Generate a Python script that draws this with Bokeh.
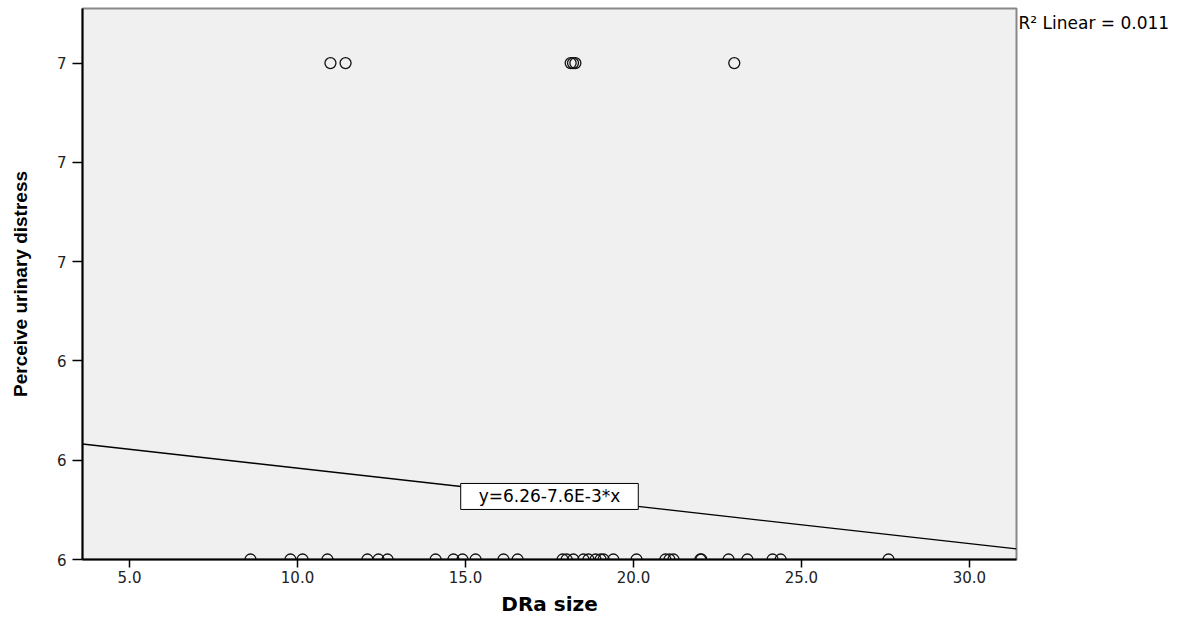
from bokeh.plotting import figure
from bokeh.models import Range1d, FixedTicker, Label, LinearAxis
from bokeh.embed import file_html
from bokeh.resources import INLINE

# ---- data ----
dra_low = [8.60, 9.79, 10.15, 10.89, 12.08, 12.41, 12.68, 14.11, 14.64, 14.91, 15.30,
           16.13, 16.55, 17.89, 18.01, 18.21, 18.51, 18.66, 18.87, 19.02, 19.11, 19.40,
           20.09, 20.95, 21.07, 21.19, 21.99, 22.02, 22.83, 23.39, 24.14, 24.38, 27.59]
distress_low = [6.0] * len(dra_low)
dra_high = [10.98, 11.43, 18.13, 18.20, 18.27, 23.00]
distress_high = [7.0] * len(dra_high)

intercept = 6.26
slope = -0.0076
r2_text = "R² Linear = 0.011"
eq_text = "y=6.26-7.6E-3*x"

x_ticks = [5, 10, 15, 20, 25, 30]
x_tick_labels = ["5.0", "10.0", "15.0", "20.0", "25.0", "30.0"]
y_ticks = [6.0, 6.2, 6.4, 6.6, 6.8, 7.0]
y_tick_labels = ["6", "6", "6", "7", "7", "7"]

x_lo, x_hi = 3.6, 31.4
y_lo, y_hi = 6.0, 7.11

FONT = "DejaVu Sans"

p = figure(frame_width=934, frame_height=551, output_backend="svg", toolbar_location=None,
           x_range=Range1d(x_lo, x_hi), y_range=Range1d(y_lo, y_hi),
           min_border_left=82, min_border_top=8, min_border_right=165, min_border_bottom=53,
           background_fill_color="#f0f0f0", border_fill_color="white")

p.grid.visible = False
p.outline_line_color = "#888888"
p.outline_line_width = 2

p.xaxis.ticker = FixedTicker(ticks=x_ticks)
p.xaxis.major_label_overrides = dict(zip(x_ticks, x_tick_labels))
p.yaxis.ticker = FixedTicker(ticks=y_ticks)
p.yaxis.major_label_overrides = dict(zip(y_ticks, y_tick_labels))

for ax in (p.xaxis[0], p.yaxis[0]):
    ax.axis_line_color = "black"
    ax.axis_line_width = 2
    ax.major_tick_line_color = "black"
    ax.major_tick_line_width = 1.5
    ax.major_tick_in = 0
    ax.minor_tick_line_color = None
    ax.major_label_text_font = FONT
    ax.major_label_text_font_size = "15px"
    ax.major_label_text_color = "#222222"
    ax.axis_label_text_font = FONT
    ax.axis_label_text_font_style = "bold"
    ax.axis_label_text_color = "black"

p.xaxis.major_tick_out = 8
p.xaxis.major_label_standoff = 3
p.xaxis.axis_label = "DRa size"
p.xaxis.axis_label_text_font_size = "20px"
p.xaxis.axis_label_standoff = 6

p.yaxis.major_tick_out = 10
p.yaxis.major_label_standoff = 6
p.yaxis.axis_label = "Perceive urinary distress"
p.yaxis.axis_label_text_font = "Liberation Sans"
p.yaxis.axis_label_text_font_size = "19px"
p.yaxis.axis_label_standoff = 23

# R² note in the right margin, carried by a bare right-hand axis (not clipped)
r2_pos = y_hi - 0.03
r2_axis = LinearAxis(ticker=FixedTicker(ticks=[r2_pos]),
                     major_label_overrides={r2_pos: r2_text},
                     axis_line_color=None, major_tick_line_color=None,
                     minor_tick_line_color=None, major_tick_out=0, major_tick_in=0,
                     major_label_standoff=2, major_label_text_font=FONT,
                     major_label_text_font_size="17px", major_label_text_color="black")
p.add_layout(r2_axis, "right")

# regression line across the x range
lx = [x_lo, x_hi]
ly = [intercept + slope * v for v in lx]
p.line(lx, ly, line_color="black", line_width=1.3)

p.scatter(dra_low, distress_low, marker="circle", size=11, fill_color=None,
          line_color="#111111", line_width=1.3)
p.scatter(dra_high, distress_high, marker="circle", size=11, fill_color=None,
          line_color="#111111", line_width=1.3)

xm = (x_lo + x_hi) / 2
p.add_layout(Label(x=xm, y=intercept + slope * xm, text=eq_text, text_align="center",
                   text_baseline="middle", text_font=FONT, text_font_size="17px",
                   text_color="black", background_fill_color="white",
                   border_line_color="black", border_line_width=1, padding=(18, 3)))

open("out.html", "w").write(file_html(p, INLINE))
